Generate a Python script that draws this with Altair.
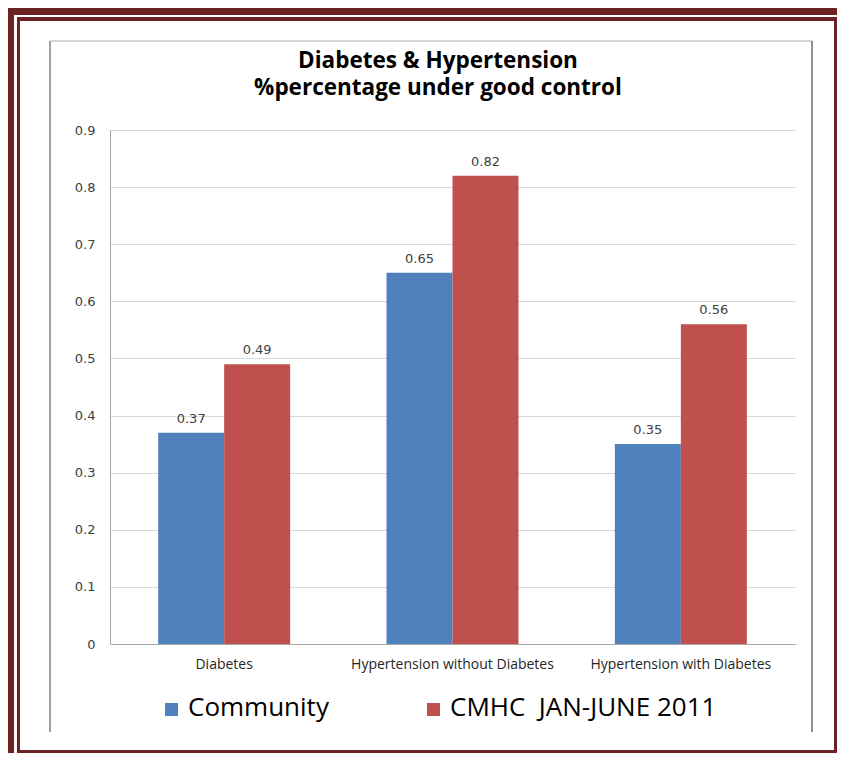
import altair as alt
import pandas as pd

categories = ["Diabetes", "Hypertension without Diabetes", "Hypertension with Diabetes"]
series = ["Community", "CMHC\u00a0\u00a0JAN-JUNE 2011"]
community = [0.37, 0.65, 0.35]
cmhc = [0.49, 0.82, 0.56]
colors = ["#4F81BD", "#C0504D"]
title_lines = ["Diabetes & Hypertension", "%percentage under good control"]
y_ticks = [0, 0.1, 0.2, 0.3, 0.4, 0.5, 0.6, 0.7, 0.8, 0.9]

rows = []
for c, a, b in zip(categories, community, cmhc):
    rows.append({"category": c, "series": series[0], "value": a})
    rows.append({"category": c, "series": series[1], "value": b})
df = pd.DataFrame(rows)

W, H = 685, 514
MAROON = "#6B2323"
one = alt.Data(values=[{}])
BOTTOM = 623  # last drawable y in plot coordinates
RIGHT = 727   # last drawable x in plot coordinates


def rect(x1, x2, y1, y2, color):
    return alt.Chart(one).mark_rect(color=color).encode(
        x=alt.value(x1), x2=alt.value(x2), y=alt.value(y1), y2=alt.value(y2)
    )


def vline(xv, y1, y2, color, w):
    return alt.Chart(one).mark_rule(color=color, strokeWidth=w).encode(
        x=alt.value(xv), y=alt.value(y1), y2=alt.value(y2)
    )


def hline(yv, x1, x2, color, w):
    return alt.Chart(one).mark_rule(color=color, strokeWidth=w).encode(
        y=alt.value(yv), x=alt.value(x1), x2=alt.value(x2)
    )


def label(txt, xv, yv, size, bold=False, align="left"):
    return alt.Chart(one).mark_text(
        font="Open Sans", fontSize=size, fontWeight="bold" if bold else "normal",
        align=align, baseline="alphabetic", color="#000000", lineHeight=27
    ).encode(x=alt.value(xv), y=alt.value(yv), text=alt.value(txt))


decor = [
    # outer thick frame
    rect(-102, RIGHT, -122, -115, MAROON),
    rect(-102, -96, -122, BOTTOM, MAROON),
    # inner thin frame
    rect(-93, RIGHT, -113, -109, MAROON),
    rect(-93, -90, -113, BOTTOM, MAROON),
    rect(RIGHT - 3, RIGHT, -113, BOTTOM, MAROON),
    rect(-93, RIGHT, BOTTOM - 3, BOTTOM, MAROON),
    # chart box
    hline(-89, -60, 702, "#C8C8C8", 1.5),
    vline(-60, -89, 602, "#A0A0A0", 2),
    vline(702, -89, 602, "#909090", 2),
]

x = alt.X(
    "category:N", sort=categories,
    scale=alt.Scale(paddingInner=0.422, paddingOuter=0.211),
    axis=alt.Axis(title=None, labelAngle=0, ticks=False, domainColor="#A6A6A6",
                  labelFont="Open Sans", labelFontSize=14, labelColor="#262626",
                  labelPadding=13, labelLimit=0),
)
xo = alt.XOffset("series:N", sort=series, scale=alt.Scale(paddingInner=0, paddingOuter=0))
y = alt.Y(
    "value:Q", scale=alt.Scale(domain=[0, 0.9], nice=False),
    axis=alt.Axis(title=None, values=y_ticks, format="~g", ticks=False,
                  domainColor="#A6A6A6", gridColor="#D9D9D9", labelPadding=15,
                  labelFont="DejaVu Sans", labelFontSize=13, labelColor="#404040"),
)
color = alt.Color("series:N", sort=series, scale=alt.Scale(domain=series, range=colors), legend=None)

base = alt.Chart(df)
bars = base.mark_bar().encode(x=x, xOffset=xo, y=y, color=color)
vals = base.mark_text(font="DejaVu Sans", fontSize=13, color="#404040",
                      baseline="alphabetic", dy=-10).encode(
    x=x, xOffset=xo, y=y, text=alt.Text("value:Q", format=".2f"))

title = label(title_lines, 328, -62, 22.5, bold=True, align="center")

legend = [
    rect(55, 68, 573, 586, colors[0]),
    label(series[0], 78, 586, 26),
    rect(317, 330, 573, 586, colors[1]),
    label(series[1], 340, 586, 26),
]

chart = alt.layer(*decor, bars, vals, title, *legend).properties(
    width=W, height=H,
    autosize=alt.AutoSizeParams(type="none"),
    padding={"left": 102, "top": 122, "right": RIGHT - W, "bottom": BOTTOM - H},
).configure_view(stroke=None)

chart.save("out.html", embed_options={"renderer": "svg", "actions": False})
